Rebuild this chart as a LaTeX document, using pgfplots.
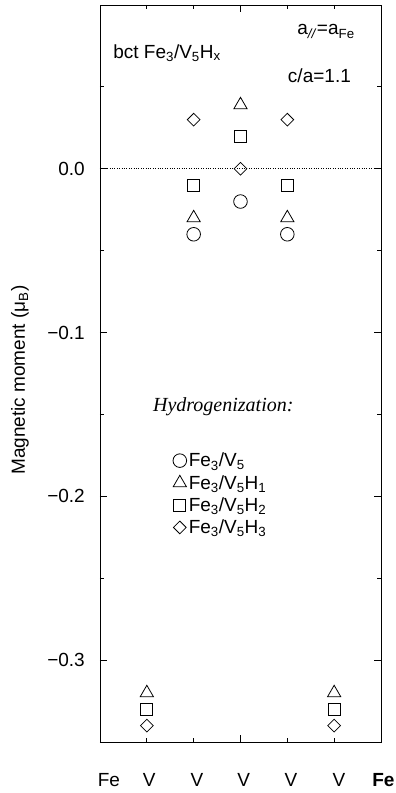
\documentclass[border=0pt]{standalone}
\usepackage{fontspec}
\setmainfont{Liberation Sans}
\newfontfamily\serifit{Liberation Serif}
\usepackage{pgfplots}
\pgfplotsset{compat=1.18}
\newcommand\fs{\fontsize{19}{23}\selectfont}
\begin{document}
\begin{tikzpicture}[x=1pt,y=1pt]
\begin{axis}[
  at={(0pt,0pt)}, anchor=south west,
  scale only axis, width=281pt, height=737pt,
  xmin=0, xmax=6, ymin=-0.35, ymax=0.1,
  xtick={3}, minor xtick={1,2,4,5}, xticklabels={},
  ytick={-0.3,-0.2,-0.1,0}, yticklabels={−0.3,−0.2,−0.1,0.0},
  minor ytick={-0.35,-0.25,-0.15,-0.05,0.05},
  major tick length=7pt, minor tick length=4pt,
  tick style={black, line width=0.8pt},
  tick align=inside,
  axis line style={line width=0.9pt},
  yticklabel style={font=\fs, inner sep=0pt},
  yticklabel shift=15pt,
  ylabel={Magnetic moment (μ\textsubscript{B})},
  ylabel style={font=\fs, at={(axis description cs:-0.285,0.491)}, anchor=center},
  clip=false,
  legend style={at={(axis cs:1.54,-0.1725)}, anchor=north west, draw=none, fill=none,
    font=\fs, inner sep=0pt, row sep=4pt, nodes={inner sep=1.5pt}},
  legend cell align=left,
  legend image code/.code={\path[draw=none,fill=none] (0pt,-6pt) rectangle (15pt,6pt); \draw[#1] plot coordinates {(7.5pt,0pt)};},
  every axis plot/.append style={line width=0.8pt},
]
\addplot[black, dash pattern=on 1pt off 1.4pt, line width=0.6pt, forget plot] coordinates {(0,0) (6,0)};
\addplot[only marks, mark=o, mark size=6.8pt, black] coordinates {(2,-0.04) (3,-0.02) (4,-0.04)};
\addlegendentry{Fe\textsubscript{3}/V\textsubscript{5}}
\addplot[only marks, mark=triangle, mark size=7.6pt, black] coordinates {(1,-0.32) (2,-0.03) (3,0.039) (4,-0.03) (5,-0.32)};
\addlegendentry{Fe\textsubscript{3}/V\textsubscript{5}H\textsubscript{1}}
\addplot[only marks, mark=square, mark size=6pt, black] coordinates {(1,-0.33) (2,-0.01) (3,0.02) (4,-0.01) (5,-0.33)};
\addlegendentry{Fe\textsubscript{3}/V\textsubscript{5}H\textsubscript{2}}
\addplot[only marks, mark=square, mark size=4.5pt, mark options={rotate=45}, black] coordinates {(1,-0.34) (2,0.03) (3,0.0) (4,0.03) (5,-0.34)};
\addlegendentry{Fe\textsubscript{3}/V\textsubscript{5}H\textsubscript{3}}
\node[font=\fs, anchor=base west, inner sep=0pt] at (axis cs:0.28,0.0676) {bct Fe\textsubscript{3}/V\textsubscript{5}H\textsubscript{x}};
\node[font=\fs, anchor=base west, inner sep=0pt] at (axis cs:4.21,0.0817) {a\textsubscript{\textit{//}}=a\textsubscript{Fe}};
\node[font=\fs, anchor=base west, inner sep=0pt] at (axis cs:4.01,0.0524) {c/a=1.1};
\node[font=\fontsize{20}{24}\selectfont\serifit\itshape, anchor=base west, inner sep=0pt] at (axis cs:1.13,-0.1485) {Hydrogenization:};
\node[font=\fs, anchor=base, inner sep=0pt] at (axis cs:0.19,-0.3769) {Fe};
\node[font=\fs, anchor=base, inner sep=0pt] at (axis cs:1.05,-0.3769) {V};
\node[font=\fs, anchor=base, inner sep=0pt] at (axis cs:2.07,-0.3769) {V};
\node[font=\fs, anchor=base, inner sep=0pt] at (axis cs:3.07,-0.3769) {V};
\node[font=\fs, anchor=base, inner sep=0pt] at (axis cs:4.08,-0.3769) {V};
\node[font=\fs, anchor=base, inner sep=0pt] at (axis cs:5.10,-0.3769) {V};
\node[font=\fs\bfseries, anchor=base west, inner sep=0pt] at (axis cs:5.81,-0.3769) {Fe};
\end{axis}
\pgfresetboundingbox
\path[use as bounding box] (-100pt,-51pt) rectangle (296pt,742pt);
\end{tikzpicture}
\end{document}
